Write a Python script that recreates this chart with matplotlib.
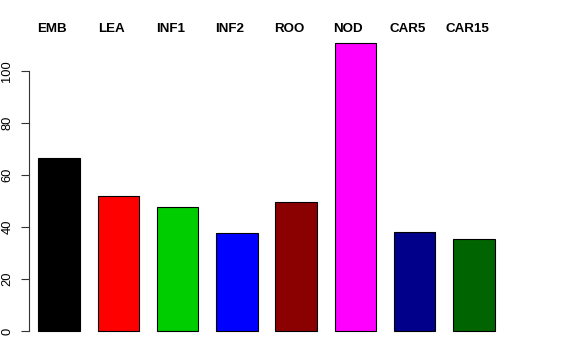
import matplotlib
matplotlib.use("Agg")
import matplotlib.pyplot as plt

# data
etiquetas = ["EMB", "LEA", "INF1", "INF2", "ROO", "NOD", "CAR5", "CAR15"]
valores = [66.5, 51.9, 47.7, 37.7, 49.6, 110.8, 38.1, 35.4]
cores = ["black", "red", "#00CD00", "blue", "#8B0000", "magenta", "#00008B", "#006400"]

plt.rcParams['font.family'] = ['Liberation Sans', 'DejaVu Sans']

W, H = 576, 360
fig = plt.figure(figsize=(W / 100, H / 100), dpi=100)

# axes placed in pixel terms (R barplot style, one bar every 1.2 units)
esq, dir_, base, topo = 29, 547, 335, 40
ax = fig.add_axes([esq / W, 1 - base / H, (dir_ - esq) / W, (base - topo) / H])
px_por_un = 49.4
ax.set_xlim(0.7 - (59 - esq) / px_por_un, 0.7 + (dir_ - 59) / px_por_un)
ax.set_ylim(-(base - 331) / 2.6, (331 - topo) / 2.6)

centros = [0.7 + 1.2 * i for i in range(len(valores))]
ax.bar(centros, valores, width=0.84, color=cores, edgecolor="black", linewidth=0.8)

for s in ["top", "right", "bottom"]:
    ax.spines[s].set_visible(False)
ax.spines["left"].set_bounds(0, 100)
ax.spines["left"].set_color("#333333")
ax.set_xticks([])
ax.set_yticks([0, 20, 40, 60, 80, 100])
ax.tick_params(axis="y", length=5.8, width=0.8, color="#333333", pad=5.5, labelsize=9.3)
for lab in ax.get_yticklabels():
    lab.set_rotation(90)
    lab.set_va("center")

# group names along the top, a little left of each bar
for c, nome in zip(centros, etiquetas):
    ax.text(c - 7 / px_por_un, (331 - 29.5) / 2.6, nome, ha="center", va="center",
            fontsize=9.6, fontweight="bold", clip_on=False)

fig.savefig("out.png", dpi=100)
